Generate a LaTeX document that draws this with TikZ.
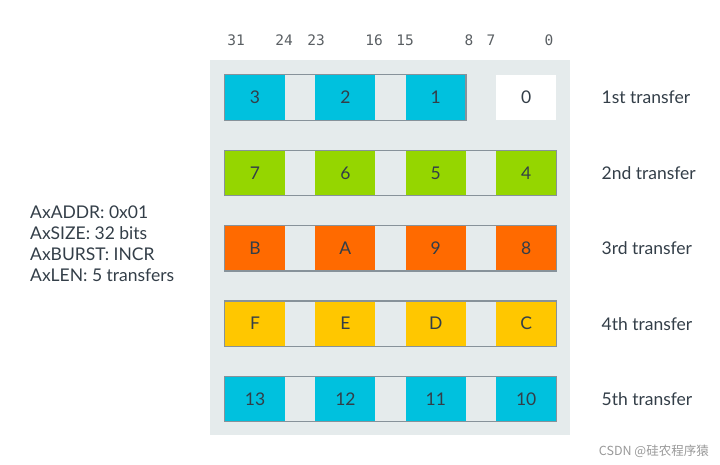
\documentclass[tikz,border=0pt]{standalone}
\usepackage{fontspec}
\setmainfont{Lato}
\newfontfamily\bitfont{DejaVu Sans Mono}
\newfontfamily\cjkfont{Noto Sans CJK SC}
\usetikzlibrary{positioning}
\definecolor{AXIcyan}{HTML}{00C1DE}
\definecolor{AXIgreen}{HTML}{95D600}
\definecolor{AXIorange}{HTML}{FF6A00}
\definecolor{AXIyellow}{HTML}{FFC700}
\definecolor{AXIpanel}{HTML}{E5EBEC}
\definecolor{AXIframe}{HTML}{87929A}
\definecolor{AXItext}{HTML}{333E48}
\definecolor{AXIbits}{HTML}{5A5F63}

\begin{document}
\begin{tikzpicture}[
  x=1pt,y=-1pt,
  node distance=30pt,
  cell/.style={minimum width=60pt,minimum height=45pt,inner sep=0pt,text=AXItext,font=\fontsize{17.5}{20}\selectfont},
  frame/.style={draw=AXIframe,line width=1.3pt},
  bitno/.style={text=AXIbits,font=\bitfont\fontsize{14.5}{16}\selectfont},
  lbl/.style={anchor=west,inner sep=0pt,text=AXItext,font=\fontsize{17.5}{20}\selectfont}
]
\useasboundingbox (0,0) rectangle (720,465);
\fill[AXIpanel] (210,60) rectangle (570,435);
% bit numbers
\node[bitno] (n31) at (236,40) {31};
\node[bitno] (n24) at (284,40) {24};
\node[bitno] (n23) at (316,40) {23};
\node[bitno] (n16) at (374,40) {16};
\node[bitno] (n15) at (405,40) {15};
\node[bitno] (n8) at (469,40) {8};
\node[bitno] (n7) at (491,40) {7};
\node[bitno] (n0) at (549,40) {0};
% 1st transfer
\node[cell,fill=AXIcyan] (b3) at (255,97.5) {3};
\node[cell,fill=AXIcyan,right=of b3] (b2) {2};
\node[cell,fill=AXIcyan,right=of b2] (b1) {1};
\node[cell,fill=white,right=of b1] (b0) {0};
\draw[frame] (b3.north west) rectangle (b1.south east);
% 2nd transfer
\node[cell,fill=AXIgreen,below=of b3] (b7) {7};
\node[cell,fill=AXIgreen,right=of b7] (b6) {6};
\node[cell,fill=AXIgreen,right=of b6] (b5) {5};
\node[cell,fill=AXIgreen,right=of b5] (b4) {4};
\draw[frame] (b7.north west) rectangle (b4.south east);
% 3rd transfer
\node[cell,fill=AXIorange,below=of b7] (bB) {B};
\node[cell,fill=AXIorange,right=of bB] (bA) {A};
\node[cell,fill=AXIorange,right=of bA] (b9) {9};
\node[cell,fill=AXIorange,right=of b9] (b8) {8};
\draw[frame] (bB.north west) rectangle (b8.south east);
% 4th transfer
\node[cell,fill=AXIyellow,below=of bB] (bF) {F};
\node[cell,fill=AXIyellow,right=of bF] (bE) {E};
\node[cell,fill=AXIyellow,right=of bE] (bD) {D};
\node[cell,fill=AXIyellow,right=of bD] (bC) {C};
\draw[frame] (bF.north west) rectangle (bC.south east);
% 5th transfer
\node[cell,fill=AXIcyan,below=of bF] (b13) {13};
\node[cell,fill=AXIcyan,right=of b13] (b12) {12};
\node[cell,fill=AXIcyan,right=of b12] (b11) {11};
\node[cell,fill=AXIcyan,right=of b11] (b10) {10};
\draw[frame] (b13.north west) rectangle (b10.south east);
% transfer labels
\node[lbl,right=45pt of b0] (t1) {1st transfer};
\node[lbl,right=45pt of b4] (t2) {2nd transfer};
\node[lbl,right=45pt of b8] (t3) {3rd transfer};
\node[lbl,right=45pt of bC] (t4) {4th transfer};
\node[lbl,right=45pt of b10] (t5) {5th transfer};
% burst parameters
\node[lbl,align=left,font=\fontsize{17.5}{21}\selectfont] (params) at (30,244)
  {AxADDR: 0x01\\AxSIZE: 32 bits\\AxBURST: INCR\\AxLEN: 5 transfers};
\node[anchor=east,inner sep=0pt,text=black!40,font=\cjkfont\fontsize{12.5}{14}\selectfont] (mark) at (709,451) {CSDN @硅农程序猿};
\end{tikzpicture}
\end{document}
